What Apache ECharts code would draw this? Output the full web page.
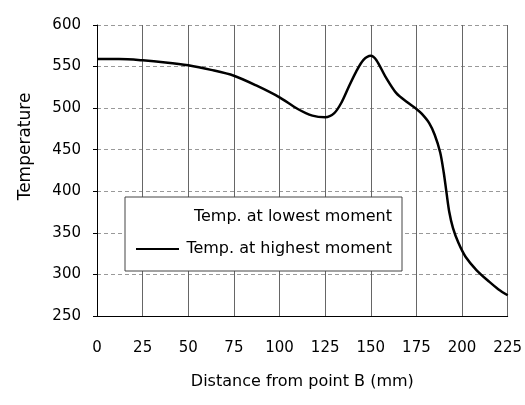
<!DOCTYPE html>
<html>
<head>
<meta charset="utf-8">
<script src="https://cdn.jsdelivr.net/npm/echarts@6/dist/echarts.min.js"></script>
<style>
  html, body { margin: 0; padding: 0; background: #fff; }
  #main { width: 525px; height: 405px; }
</style>
</head>
<body>
<div id="main"></div>
<script>
// distance from point B (mm) and temperature
var distance = [0, 12, 25, 37.5, 50, 62.5, 75, 87.5, 100, 110, 118, 125, 130, 134, 138, 142, 146, 150, 153, 158, 164, 170, 175, 178, 182, 185, 188, 190, 191.5, 193, 195, 198, 202, 208, 215, 220, 225];
var tempHighest = [559, 559, 557.5, 555, 551.5, 546, 539, 527, 513, 499, 491, 489, 494, 507, 526, 544, 558, 563, 558, 538, 518, 507, 499, 493, 482, 468, 447, 422, 398, 375, 356, 338, 321, 305, 291, 282, 275];
var tempLowest = []; // not drawn in the original, only in the legend

var seriesNames = ['Temp. at lowest moment', 'Temp. at highest moment'];
var xTicks = { min: 0, max: 225, step: 25 };
var yTicks = { min: 250, max: 600, step: 50 };

var font = 'DejaVu Sans';

var highData = distance.map(function (d, i) { return [d, tempHighest[i]]; });

var chart = echarts.init(document.getElementById('main'));

var option = {
    animation: false,
    backgroundColor: '#fff',
    grid: { left: 97, right: 15, top: 25, bottom: 89 },
    legend: {
        orient: 'vertical',
        left: 125,
        top: 197,
        data: seriesNames,
        itemWidth: 43,
        itemHeight: 16,
        itemGap: 16,
        padding: [12, 10, 14, 10],
        borderColor: '#444',
        borderWidth: 1,
        backgroundColor: '#fff',
        itemStyle: { opacity: 0 },
        formatter: function (name) { return '{t|' + name + '}'; },
        textStyle: {
            color: '#000',
            fontFamily: font,
            fontSize: 16,
            rich: { t: { width: 208, align: 'right', fontFamily: font, fontSize: 16, color: '#000' } }
        }
    },
    xAxis: {
        type: 'value',
        min: xTicks.min,
        max: xTicks.max,
        interval: xTicks.step,
        name: 'Distance from point B (mm)',
        nameLocation: 'middle',
        nameGap: 58,
        nameTextStyle: { color: '#000', fontFamily: font, fontSize: 16 },
        axisLine: { show: true, lineStyle: { color: '#000', width: 1 } },
        axisTick: { show: false },
        axisLabel: { color: '#000', fontFamily: font, fontSize: 15, margin: 25 },
        splitLine: { show: true, lineStyle: { color: '#666', width: 1 } }
    },
    yAxis: {
        type: 'value',
        min: yTicks.min,
        max: yTicks.max,
        interval: yTicks.step,
        name: 'Temperature',
        nameLocation: 'middle',
        nameGap: 63,
        nameTextStyle: { color: '#000', fontFamily: font, fontSize: 17, padding: [0, 0, 0, 48] },
        axisLine: { show: true, lineStyle: { color: '#000', width: 1 } },
        axisTick: { show: true, length: 4, lineStyle: { color: '#000' } },
        axisLabel: { color: '#000', fontFamily: font, fontSize: 15, margin: 16 },
        splitLine: { show: true, lineStyle: { color: '#999', width: 1, type: [4, 3] } }
    },
    series: [
        {
            name: seriesNames[0],
            type: 'line',
            data: tempLowest,
            showSymbol: false,
            symbol: 'none',
            itemStyle: { color: 'rgba(0,0,0,0)' },
            lineStyle: { color: 'rgba(0,0,0,0)' }
        },
        {
            name: seriesNames[1],
            type: 'line',
            data: highData,
            smooth: 0.3,
            showSymbol: false,
            symbol: 'none',
            itemStyle: { color: '#000' },
            lineStyle: { color: '#000', width: 2.5 }
        }
    ]
};

chart.setOption(option);
</script>
</body>
</html>
